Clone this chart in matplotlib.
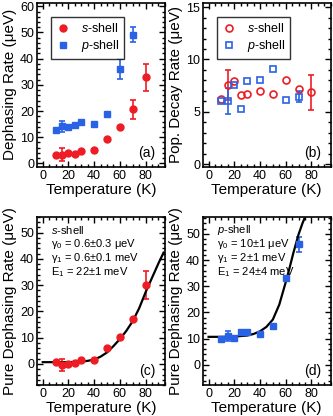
import numpy as np
import matplotlib
matplotlib.use('Agg')
import matplotlib.pyplot as plt

RED = '#ee1c24'
BLUE = '#2a62e6'

plt.rcParams['font.family'] = 'Liberation Sans'
plt.rcParams['mathtext.fontset'] = 'custom'
plt.rcParams['mathtext.rm'] = 'Liberation Sans'
plt.rcParams['mathtext.it'] = 'Liberation Sans:italic'
plt.rcParams['font.size'] = 9
plt.rcParams['axes.linewidth'] = 1.2

# (a) total dephasing rate
temp_s = [10, 15, 20, 25, 30, 40, 50, 60, 70, 80]
temp_p = [10, 15, 20, 25, 30, 40, 50, 60, 70]
deph_s = [3.3, 3.4, 4.0, 3.7, 4.6, 5.0, 9.2, 13.8, 20.6, 32.9]
deph_s_err = [0, 2.4, 0, 0, 0, 0, 0, 0, 3.6, 5.2]
deph_p = [12.6, 14.2, 13.9, 14.8, 16.0, 15.2, 18.9, 36.0, 49.2]
deph_p_err = [0, 2.1, 0, 0, 0, 0, 0, 3.8, 2.9]

# (b) population decay rate
pop_s = [6.2, 7.55, 7.9, 6.6, 6.7, 7.0, 6.7, 8.0, 7.2, 6.85]
pop_s_err = [0, 1.45, 0, 0, 0, 0, 0, 0, 0, 1.7]
pop_p = [6.0, 6.0, 7.55, 5.3, 7.9, 8.0, 9.05, 6.1, 6.45]
pop_p_err = [0, 1.25, 0, 0, 0, 0, 0, 0, 0.55]

# (c), (d) pure dephasing rate
pure_s = [0.75, -0.4, 0.0, 0.4, 1.4, 1.6, 6.1, 10.1, 17.1, 30.1]
pure_s_err = [0, 2.2, 0, 0, 0, 0, 0, 0, 0, 5.2]
pure_p = [9.8, 11.1, 10.3, 12.6, 12.4, 11.7, 14.9, 33.3, 46.0]
pure_p_err = [0, 1.9, 0, 0, 0, 0, 0, 0, 3.0]

# fit curves
fit_s_t = [0, 10, 20, 30, 35, 40, 45, 50, 55, 60, 65, 70, 75, 80, 85, 90, 94]
fit_s_v = [0.7, 0.7, 0.7, 0.9, 1.2, 1.7, 2.8, 4.4, 6.8, 9.5, 12.6, 16.3, 21.2, 27.3, 32.8, 38.3, 42.4]
fit_p_t = [0, 10, 20, 30, 35, 40, 45, 50, 55, 60, 63, 66, 70, 73, 74.5]
fit_p_v = [10.7, 10.7, 10.8, 11.2, 11.8, 12.8, 14.5, 17.3, 23.0, 31.5, 37.0, 42.8, 49.8, 54.0, 55.8]

fig = plt.figure(figsize=(3.33, 4.16), dpi=100)
W, H = 0.384, 0.394
ax_a = fig.add_axes([0.111, 0.599, W, H])
ax_b = fig.add_axes([0.609, 0.599, W, H])
ax_c = fig.add_axes([0.111, 0.0745, W, 0.404])
ax_d = fig.add_axes([0.609, 0.0745, W, 0.404])

ebkw = dict(capsize=2.5, elinewidth=1.2, capthick=1.2, linestyle='none', markersize=5)


def yerr(e):
    e = np.array(e, dtype=float)
    return np.where(e > 0, e, np.nan)


# (a)
ea_s = ax_a.errorbar(temp_s, deph_s, yerr=yerr(deph_s_err), fmt='o', color=RED,
                     label='$s$-shell', **ebkw)
ea_p = ax_a.errorbar(temp_p, deph_p, yerr=yerr(deph_p_err), fmt='s', color=BLUE,
                     label='$p$-shell', **ebkw)
ax_a.set_ylim(-1.3, 61.3)
ax_a.set_yticks([0, 10, 20, 30, 40, 50, 60])
ax_a.set_ylabel('Dephasing Rate (μeV)', fontsize=11, labelpad=2)

# (b)
eb_s = ax_b.errorbar(temp_s, pop_s, yerr=yerr(pop_s_err), fmt='o', color=RED,
                     markerfacecolor='none', markeredgewidth=1.2, label='$s$-shell', **ebkw)
eb_p = ax_b.errorbar(temp_p, pop_p, yerr=yerr(pop_p_err), fmt='s', color=BLUE,
                     markerfacecolor='none', markeredgewidth=1.2, label='$p$-shell', **ebkw)
ax_b.set_ylim(-0.25, 15.4)
ax_b.set_yticks([0, 5, 10, 15])
ax_b.set_ylabel('Pop. Decay Rate (μeV)', fontsize=11, labelpad=2)

# (c)
ax_c.errorbar(temp_s, pure_s, yerr=yerr(pure_s_err), fmt='o', color=RED, **ebkw)
ax_c.plot(fit_s_t, fit_s_v, color='black', lw=1.6)
ax_c.set_ylim(-8, 56)
ax_c.set_yticks([0, 10, 20, 30, 40, 50])
ax_c.set_ylabel('Pure Dephasing Rate (μeV)', fontsize=11, labelpad=2)
for i, s in enumerate(['$s$-shell', 'γ$_0$ = 0.6±0.3 μeV',
                       'γ$_1$ = 0.6±0.1 meV', 'E$_1$ = 22±1 meV']):
    ax_c.text(0.11, 0.925 - 0.084 * i, s, transform=ax_c.transAxes,
              fontsize=8, va='center', ha='left')

# (d)
ax_d.errorbar(temp_p, pure_p, yerr=yerr(pure_p_err), fmt='s', color=BLUE, **ebkw)
ax_d.plot(fit_p_t, fit_p_v, color='black', lw=1.6)
ax_d.set_ylim(-7.7, 56.5)
ax_d.set_yticks([0, 10, 20, 30, 40, 50])
ax_d.set_ylabel('Pure Dephasing Rate (μeV)', fontsize=11, labelpad=2)
for i, s in enumerate(['$p$-shell', 'γ$_0$ = 10±1 μeV',
                       'γ$_1$ = 2±1 meV', 'E$_1$ = 24±4 meV']):
    ax_d.text(0.11, 0.925 - 0.084 * i, s, transform=ax_d.transAxes,
              fontsize=8, va='center', ha='left')

for ax, lab in zip([ax_a, ax_b, ax_c, ax_d], ['(a)', '(b)', '(c)', '(d)']):
    ax.set_xlim(-4.5, 95)
    ax.set_xticks([0, 20, 40, 60, 80])
    ax.set_xlabel('Temperature (K)', fontsize=11, labelpad=1)
    ax.minorticks_on()
    ax.tick_params(which='both', direction='in', top=True, right=True,
                   labelsize=9, pad=2, width=1.0)
    ax.tick_params(which='major', length=4)
    ax.tick_params(which='minor', length=2.5)
    ax.text(0.86, 0.085, lab, transform=ax.transAxes, fontsize=10,
            ha='center', va='center')

for ax, conts in [(ax_a, [ea_s, ea_p]), (ax_b, [eb_s, eb_p])]:
    leg = ax.legend(handles=[c[0] for c in conts], labels=['$s$-shell', '$p$-shell'],
                    loc='upper left', bbox_to_anchor=(0.09, 0.93), fontsize=9,
                    frameon=True, fancybox=False, handlelength=1.2,
                    handletextpad=0.8, borderpad=0.4, labelspacing=0.25,
                    borderaxespad=0.2)
    leg.get_frame().set_edgecolor('black')
    leg.get_frame().set_linewidth(1.0)

fig.savefig('out.png', dpi=100)
plt.close()
